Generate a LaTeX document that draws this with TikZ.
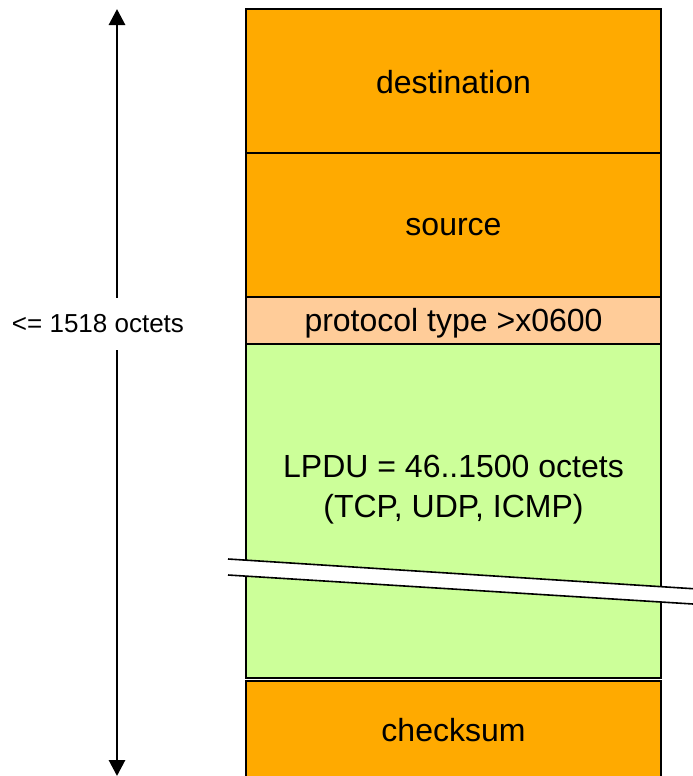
\documentclass[tikz,border=0pt]{standalone}
\usepackage{fontspec}
\setmainfont{Liberation Sans}
\usetikzlibrary{arrows.meta}
\definecolor{hdrorange}{RGB}{255,170,0}
\definecolor{typepeach}{RGB}{255,204,153}
\definecolor{datagreen}{RGB}{204,255,153}
\tikzset{
  field/.style={draw=black, line width=1.2pt},
  fieldtext/.style={inner sep=0.75pt, align=center, font=\fontsize{24}{30}\selectfont},
  span/.style={line width=2.2pt, -{Triangle[width=12pt,length=12pt]}}
}
\begin{document}
\begin{tikzpicture}[x=0.75pt,y=0.75pt,yscale=-1,xscale=1]
\useasboundingbox (0,0) rectangle (693,776);

%Frame fields
\draw[field, fill=hdrorange] (246,9) rectangle (661,153);
\draw[field, fill=hdrorange] (246,153) rectangle (661,297);
\draw[field, fill=typepeach] (246,297) rectangle (661,344);
\draw[field, fill=datagreen] (246,344) rectangle (661,678);
\draw[field, fill=hdrorange] (246,681) rectangle (661,790);

%Break in the data field
\fill[white] (228,559) -- (693,588.7) -- (693,604) -- (228,575) -- cycle;
\draw[line width=1.2pt] (228,559) -- (693,588.7);
\draw[line width=1.2pt] (228,575) -- (693,604);

% Text Nodes
\node[fieldtext] (dest) at (453.5,82) {destination};
\node[fieldtext] (src) at (453.5,227) {source};
\node[fieldtext] (ptype) at (453.5,323) {protocol type >x0600};
\node[fieldtext] (lpdu) at (453.5,490) {LPDU = 46..1500 octets\\(TCP, UDP, ICMP)};
\node[fieldtext] (crc) at (453.5,730) {checksum};

%Length arrow
\node[inner sep=0pt, minimum height=39pt, font=\fontsize{19.5}{24}\selectfont] (len) at (98,324) {<= 1518 octets};
\coordinate (top) at (117,9);
\coordinate (bot) at (117,776);
\draw[span] (len.north -| top) -- (top);
\draw[span] (len.south -| bot) -- (bot);

\end{tikzpicture}
\end{document}
